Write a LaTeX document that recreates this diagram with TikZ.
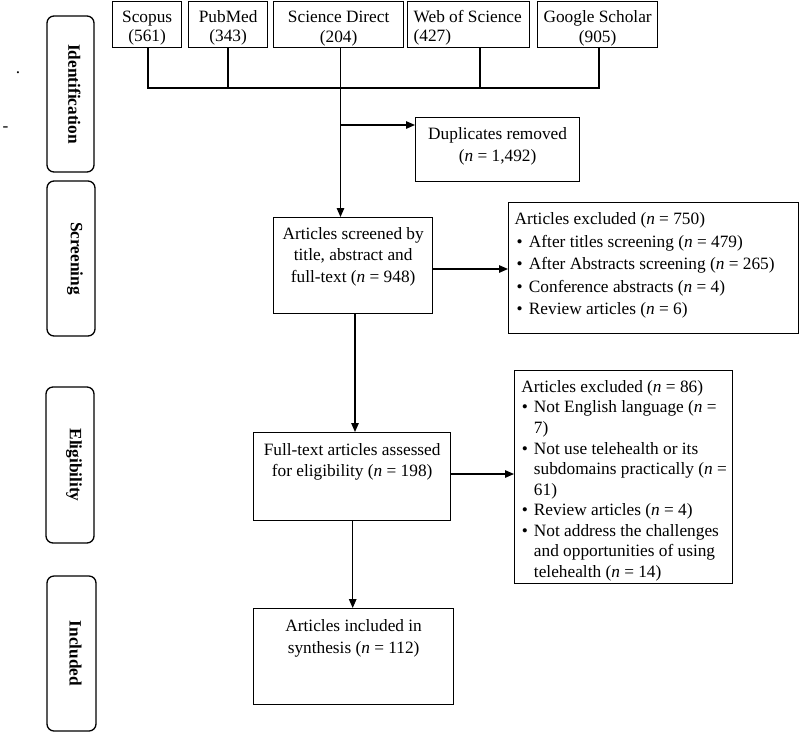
\documentclass[tikz,border=0pt]{standalone}
\usepackage{fontspec}
\setmainfont{Liberation Serif}
\usetikzlibrary{arrows.meta}
\newcommand{\bul}[2]{\hspace*{#1}\makebox[#2][l]{\textbullet}}
% \tb{width}{height}{top skip}{baselineskip}{alignment}{content}
\newcommand{\tb}[6]{\parbox[c][#2][t]{#1}{\fontsize{17.3}{#4}\selectfont#5\vspace*{#3}\rule{0pt}{14pt}#6\par}}
\begin{document}
\begin{tikzpicture}[x=1pt,y=-1pt,
  box/.style={draw,line width=1.3pt,inner sep=0pt,anchor=north west},
  stage/.style={draw,line width=1.3pt,rounded corners=7pt,inner sep=0pt,
    font=\fontsize{17.3}{20}\selectfont\bfseries},
  arr/.style={line width=1.3pt,-{Triangle[length=9pt,width=7.5pt]}},
  ln/.style={line width=1.3pt},
  font=\fontsize{17.3}{20}\selectfont]
\useasboundingbox (0,0) rectangle (800,732);

% stray marks
\node[anchor=base,inner sep=0pt] (markdot) at (18,73.5) {.};
\node[anchor=base,inner sep=0pt] (markdash) at (5.5,131.5) {-};

% stage labels
\node[stage,minimum width=47pt,minimum height=156pt] (sident) at (70.5,94) {\hspace*{8pt}\rotatebox{-90}{Identification}};
\node[stage,minimum width=48pt,minimum height=155pt] (sscreen) at (71,258.5) {\hspace*{8pt}\rotatebox{-90}{Screening}};
\node[stage,minimum width=48pt,minimum height=156pt] (selig) at (70,465) {\hspace*{8pt}\rotatebox{-90}{Eligibility}};
\node[stage,minimum width=49pt,minimum height=155pt] (sincl) at (71.5,653.5) {\hspace*{8pt}\rotatebox{-90}{Included}};

% sources
\node[box] (scopus) at (112,1) {\tb{69pt}{46pt}{7.2pt}{19pt}{\centering}{Scopus\\(561)}};
\node[box] (pubmed) at (188,1) {\tb{79pt}{46pt}{7.2pt}{19pt}{\centering}{PubMed\\(343)}};
\node[box] (scidir) at (273,1) {\tb{130pt}{46pt}{7.2pt}{19.5pt}{\centering}{Science Direct\\(204)}};
\node[box] (wos) at (407,1) {\tb{122pt}{46pt}{7.2pt}{19pt}{\raggedright\leftskip=6pt}{Web of Science\\(427)}};
\node[box] (gs) at (537,1) {\tb{120pt}{46pt}{7.2pt}{19.5pt}{\centering}{Google Scholar\\(905)}};

% main boxes
\node[box] (dup) at (415,117) {\tb{164pt}{64pt}{7.7pt}{22pt}{\centering}{Duplicates removed\\(\textit{n} = 1,492)}};
\node[box] (screen) at (273,217) {\tb{159pt}{96pt}{8pt}{21.3pt}{\centering}{Articles screened by\\title, abstract and\\full-text (\textit{n} = 948)}};
\node[box] (excl1) at (508,202) {\tb{290pt}{131pt}{8pt}{22.5pt}{\raggedright\leftskip=6pt}{Articles excluded (\textit{n} = 750)\\
\mbox{\bul{2pt}{12.3pt}After titles screening (\textit{n} = 479)}\\
\mbox{\bul{2pt}{12.3pt}After Abstracts screening (\textit{n} = 265)}\\
\mbox{\bul{2pt}{12.3pt}Conference abstracts (\textit{n} = 4)}\\
\mbox{\bul{2pt}{12.3pt}Review articles (\textit{n} = 6)}}};
\node[box] (elig) at (253,432) {\tb{197pt}{88pt}{8.7pt}{20.7pt}{\centering}{Full-text articles assessed\\for eligibility (\textit{n} = 198)}};
\node[box] (excl2) at (514,370) {\tb{218pt}{213pt}{7.7pt}{20.56pt}{\raggedright\leftskip=6.7pt}{Articles excluded (\textit{n} = 86)\\
\mbox{\bul{0.5pt}{12.1pt}Not English language (\textit{n} =}\\
\mbox{\hspace*{12.6pt}7)}\\
\mbox{\bul{0.5pt}{12.1pt}Not use telehealth or its}\\
\mbox{\hspace*{12.6pt}subdomains practically (\textit{n} =}\\
\mbox{\hspace*{12.6pt}61)}\\
\mbox{\bul{0.5pt}{12.1pt}Review articles (\textit{n} = 4)}\\
\mbox{\bul{0.5pt}{12.1pt}Not address the challenges}\\
\mbox{\hspace*{12.6pt}and opportunities of using}\\
\mbox{\hspace*{12.6pt}telehealth (\textit{n} = 14)}}};
\node[box] (incl) at (253,608) {\tb{200pt}{96pt}{8.7pt}{22pt}{\centering}{Articles included in\\synthesis (\textit{n} = 112)}};

% junction of sources
\coordinate (jA) at (148,88);
\coordinate (jB) at (228,88);
\coordinate (jC) at (340.5,88);
\coordinate (jD) at (480,88);
\coordinate (jE) at (599,88);
\coordinate (jdup) at (340.5,125);
\draw[ln] (scopus.south -| jA) -- (jA) -- (jE) -- (gs.south -| jE);
\draw[ln] (pubmed.south -| jB) -- (jB);
\draw[ln] (scidir.south -| jC) -- (jC);
\draw[ln] (wos.south -| jD) -- (jD);

% arrows
\draw[arr] (jC) -- (jC |- screen.north);
\draw[arr] (jdup) -- (jdup -| dup.west);
\coordinate (ys1) at (0,269);
\draw[arr] (screen.east |- ys1) -- (excl1.west |- ys1);
\coordinate (xs2) at (355,0);
\draw[arr] (screen.south -| xs2) -- (elig.north -| xs2);
\coordinate (ye) at (0,474);
\draw[arr] (elig.east |- ye) -- (excl2.west |- ye);
\coordinate (xe) at (352.7,0);
\draw[arr] (elig.south -| xe) -- (incl.north -| xe);
\end{tikzpicture}
\end{document}
